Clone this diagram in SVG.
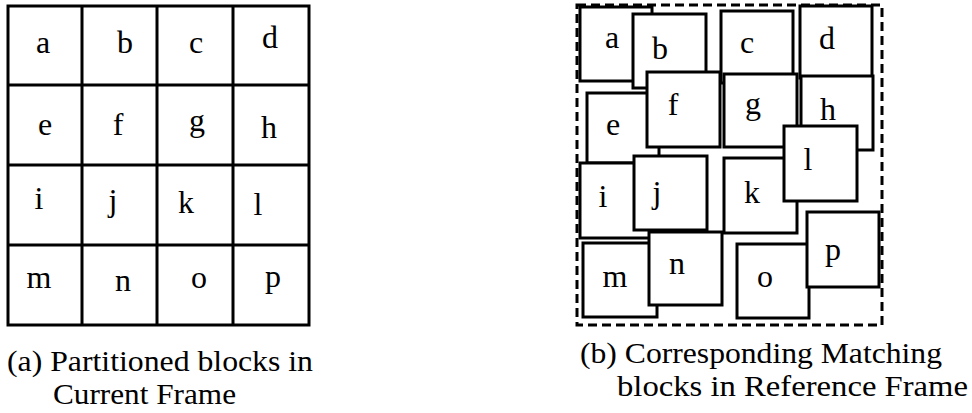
<svg xmlns="http://www.w3.org/2000/svg" width="972" height="413" viewBox="0 0 972 413">
<style>
.cell{fill:#fff;stroke:#000;stroke-width:3}
.lbl{font-family:"Liberation Serif","Times New Roman",serif;font-size:32px;fill:#000;text-anchor:middle}
.cap{font-family:"Liberation Serif","Times New Roman",serif;font-size:30px;fill:#000}
.frame{fill:none;stroke:#000;stroke-width:3;stroke-dasharray:9 5}
</style>
<rect width="972" height="413" fill="#fff"/>
<g id="current-frame">
<rect x="8" y="6" width="301" height="319" class="cell"/>
<g stroke="#000" stroke-width="3">
<line x1="82" y1="6" x2="82" y2="325"/>
<line x1="157" y1="6" x2="157" y2="325"/>
<line x1="233" y1="6" x2="233" y2="325"/>
<line x1="8" y1="85" x2="309" y2="85"/>
<line x1="8" y1="165" x2="309" y2="165"/>
<line x1="8" y1="245" x2="309" y2="245"/>
</g>
<g id="cur-a"><text class="lbl" x="43" y="53">a</text></g>
<g id="cur-b"><text class="lbl" x="125" y="53">b</text></g>
<g id="cur-c"><text class="lbl" x="196" y="53">c</text></g>
<g id="cur-d"><text class="lbl" x="270" y="48">d</text></g>
<g id="cur-e"><text class="lbl" x="45" y="135">e</text></g>
<g id="cur-f"><text class="lbl" x="118" y="135">f</text></g>
<g id="cur-g"><text class="lbl" x="197" y="131">g</text></g>
<g id="cur-h"><text class="lbl" x="269" y="138">h</text></g>
<g id="cur-i"><text class="lbl" x="39" y="209">i</text></g>
<g id="cur-j"><text class="lbl" x="113" y="211">j</text></g>
<g id="cur-k"><text class="lbl" x="186" y="213">k</text></g>
<g id="cur-l"><text class="lbl" x="258" y="215">l</text></g>
<g id="cur-m"><text class="lbl" x="39" y="288">m</text></g>
<g id="cur-n"><text class="lbl" x="123" y="291">n</text></g>
<g id="cur-o"><text class="lbl" x="199" y="288">o</text></g>
<g id="cur-p"><text class="lbl" x="273" y="287">p</text></g>
</g>
<g id="reference-frame">
<rect id="search-area" x="577" y="5" width="305" height="320" class="frame"/>
<g id="ref-a"><rect x="580" y="7" width="72" height="74" class="cell"/><text class="lbl" x="612" y="48">a</text></g>
<g id="ref-b"><rect x="633" y="14" width="73" height="74" class="cell"/><text class="lbl" x="660" y="59">b</text></g>
<g id="ref-c"><rect x="721" y="11" width="72" height="72" class="cell"/><text class="lbl" x="747" y="53">c</text></g>
<g id="ref-d"><rect x="800" y="6" width="72" height="72" class="cell"/><text class="lbl" x="827" y="49">d</text></g>
<g id="ref-h"><rect x="801" y="76" width="72" height="74" class="cell"/><text class="lbl" x="828" y="120">h</text></g>
<g id="ref-e"><rect x="587" y="93" width="72" height="70" class="cell"/><text class="lbl" x="613" y="135">e</text></g>
<g id="ref-f"><rect x="647" y="72" width="73" height="75" class="cell"/><text class="lbl" x="673" y="115">f</text></g>
<g id="ref-g"><rect x="724" y="74" width="73" height="73" class="cell"/><text class="lbl" x="753" y="114">g</text></g>
<g id="ref-i"><rect x="580" y="163" width="72" height="75" class="cell"/><text class="lbl" x="603" y="207">i</text></g>
<g id="ref-j"><rect x="634" y="156" width="73" height="74" class="cell"/><text class="lbl" x="657" y="203">j</text></g>
<g id="ref-k"><rect x="724" y="158" width="73" height="75" class="cell"/><text class="lbl" x="752" y="203">k</text></g>
<g id="ref-l"><rect x="784" y="126" width="73" height="75" class="cell"/><text class="lbl" x="808" y="170">l</text></g>
<g id="ref-m"><rect x="583" y="243" width="74" height="74" class="cell"/><text class="lbl" x="615" y="287">m</text></g>
<g id="ref-n"><rect x="649" y="232" width="73" height="73" class="cell"/><text class="lbl" x="677" y="274">n</text></g>
<g id="ref-o"><rect x="737" y="244" width="72" height="74" class="cell"/><text class="lbl" x="765" y="287">o</text></g>
<g id="ref-p"><rect x="807" y="212" width="72" height="75" class="cell"/><text class="lbl" x="833" y="260">p</text></g>
</g>
<g id="connectors"/>
<g id="captions">
<text class="cap" x="7" y="371" textLength="306" lengthAdjust="spacingAndGlyphs">(a) Partitioned blocks in</text>
<text class="cap" x="53" y="404" textLength="183" lengthAdjust="spacingAndGlyphs">Current Frame</text>
<text class="cap" x="580" y="363" textLength="362" lengthAdjust="spacingAndGlyphs">(b) Corresponding Matching</text>
<text class="cap" x="617" y="396" textLength="351" lengthAdjust="spacingAndGlyphs">blocks in Reference Frame</text>
</g>
</svg>
